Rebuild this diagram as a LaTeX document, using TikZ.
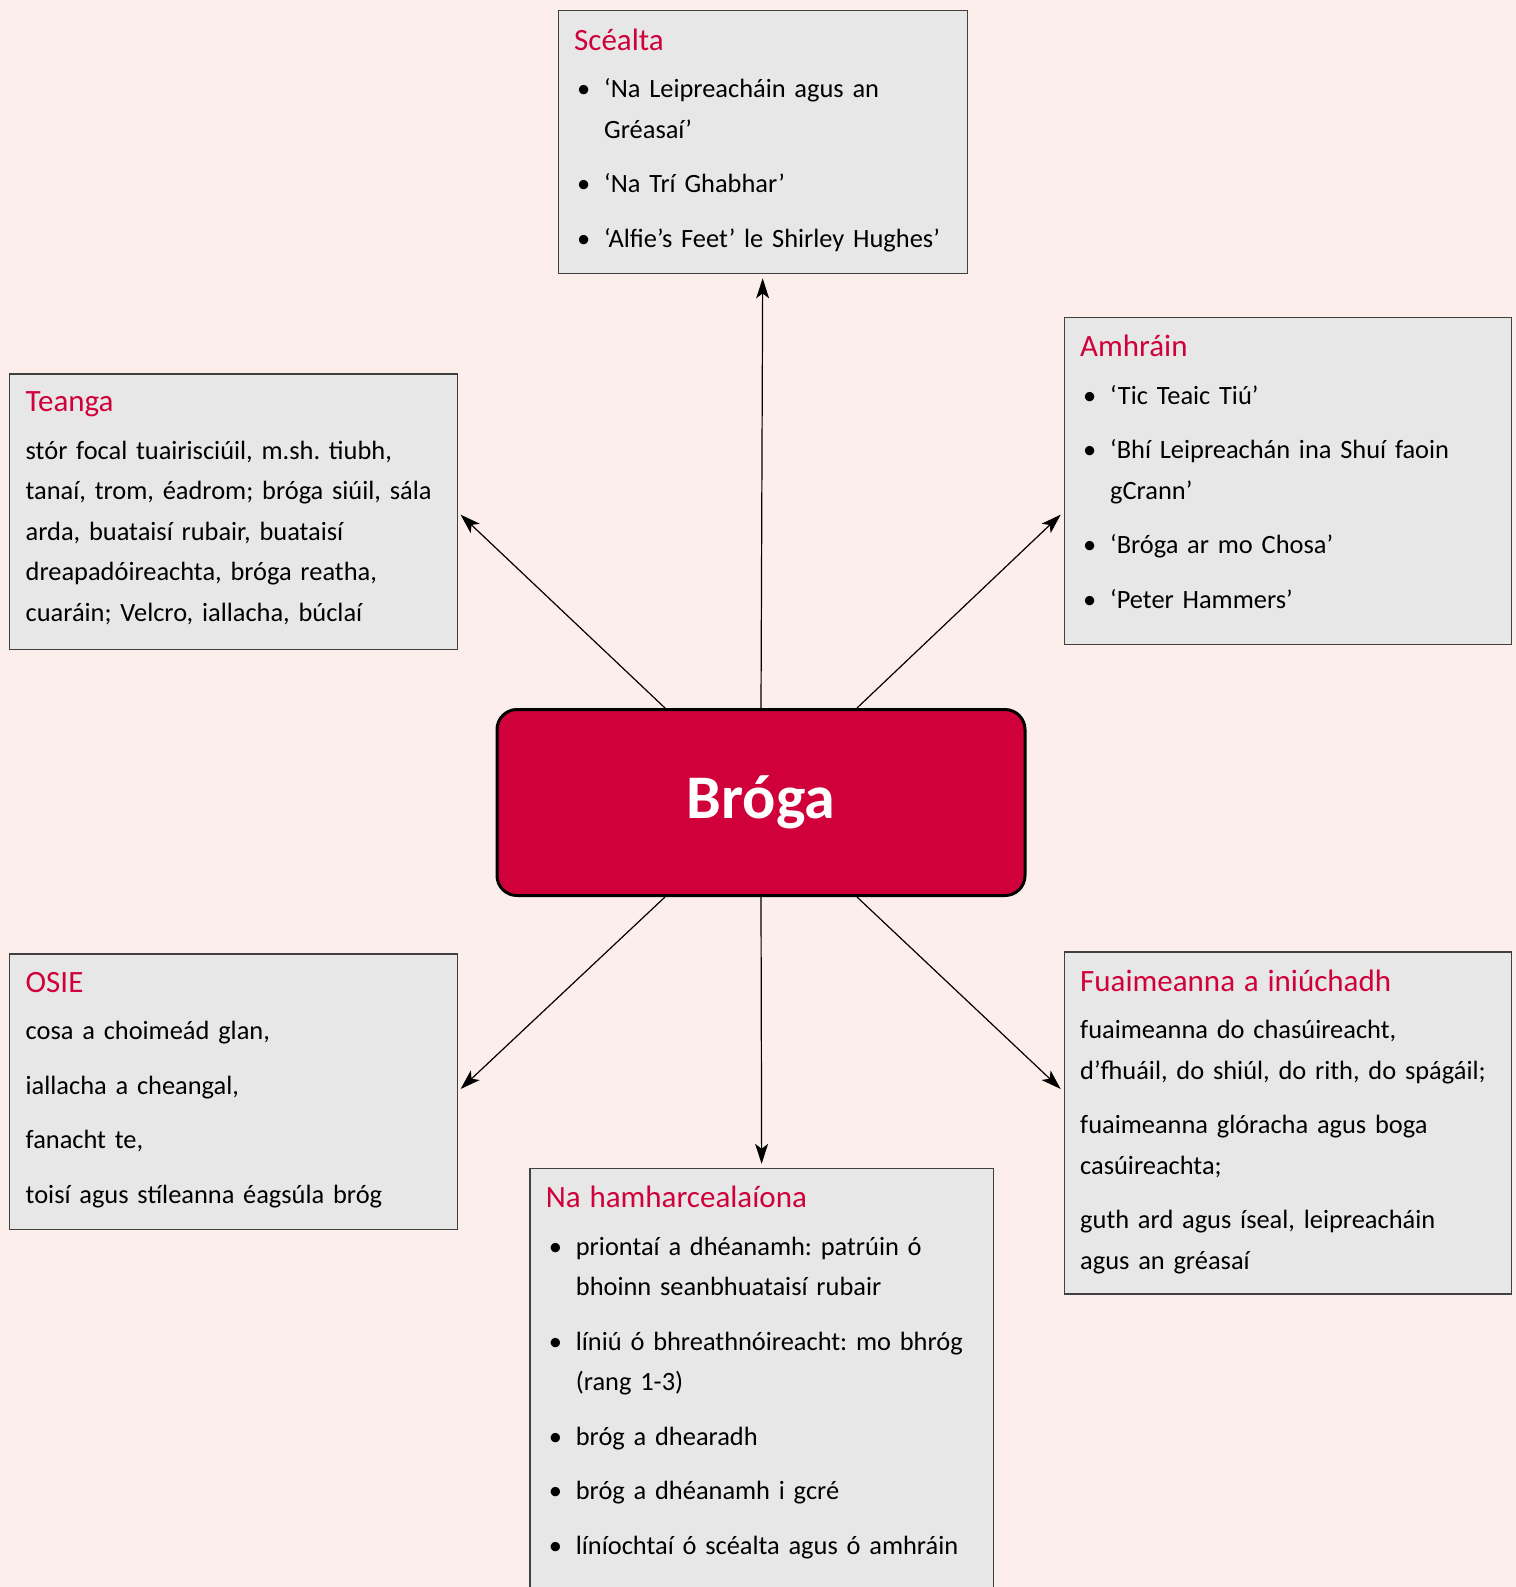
\documentclass[tikz,border=0pt]{standalone}
\usepackage{fontspec}
\setmainfont{Carlito}
\usetikzlibrary{arrows.meta}
\frenchspacing

\definecolor{pagebg}{HTML}{FCEEEA}
\definecolor{boxgray}{HTML}{E7E7E7}
\definecolor{brogared}{HTML}{D0003A}

\newcommand\itm{\par\hangindent=15pt\hangafter=0\noindent\llap{\makebox[15pt][l]{\hspace{1.5pt}\textbullet}}}
\newcommand\head[1]{{\fontsize{15.5}{20}\selectfont\color{brogared}#1}\par\vspace{-3.5pt}}

\tikzset{
	topic/.style={draw=black!75, line width=0.6pt, fill=boxgray, anchor=north west,
		inner xsep=8pt, inner ysep=9pt, align=left, text width=207.7pt,
		font=\fontsize{13.2}{20.25}\selectfont\setlength\parskip{7pt}\setlength\parindent{0pt},
		execute at end node={\par\vspace{2pt}}},
	hub/.style={draw=black, line width=1.5pt, fill=brogared, rounded corners=10pt,
		minimum width=264pt, minimum height=93pt, text=white,
		font=\fontsize{31}{36}\selectfont\bfseries},
	link/.style={-{Stealth[length=10pt,width=6.5pt,inset=2.5pt]}, line width=0.6pt, shorten >=2pt}
}

\begin{document}
\begin{tikzpicture}[x=0.5pt,y=-0.5pt]
		\fill[pagebg] (0,0) rectangle (1516,1587);
		\useasboundingbox (0,0) rectangle (1516,1587);

		\node[hub] (broga) at (761,802.5) {Bróga};

		\node[topic, text width=188.5pt] (scealta) at (557.6,10.1) {\head{Scéalta}
			\itm ‘Na Leipreacháin agus an\newline Gréasaí’
			\itm ‘Na Trí Ghabhar’
			\itm ‘Alfie’s Feet’ le Shirley Hughes’\par};
		\node[topic] (amhrain) at (1063.6,316.8) {\head{Amhráin}
			\itm ‘Tic Teaic Tiú’
			\itm ‘Bhí Leipreachán ina Shuí faoin\newline gCrann’
			\itm ‘Bróga ar mo Chosa’
			\itm ‘Peter Hammers’\par\vspace{7pt}};
		\node[topic] (teanga) at (9.1,373.4) {\head{Teanga}
			stór focal tuairisciúil, m.sh. tiubh,\newline tanaí, trom, éadrom; bróga siúil, sála\newline arda, buataisí rubair, buataisí\newline dreapadóireachta, bróga reatha,\newline cuaráin; Velcro, iallacha, búclaí\par\vspace{1.5pt}};
		\node[topic] (osie) at (9.1,953.3) {\head{OSIE}
			cosa a choimeád glan,\par
			iallacha a cheangal,\par
			fanacht te,\par
			toisí agus stíleanna éagsúla bróg\par};
		\node[topic] (fuaim) at (1063.6,951.3) {\head{Fuaimeanna a iniúchadh}
			fuaimeanna do chasúireacht,\newline d’fhuáil, do shiúl, do rith, do spágáil;\par
			fuaimeanna glóracha agus boga\newline casúireachta;\par
			guth ard agus íseal, leipreacháin\newline agus an gréasaí\par\vspace{-1pt}};
		\node[topic, text width=215.75pt] (amharc) at (529.3,1167.8) {\head{Na hamharcealaíona}
			\itm priontaí a dhéanamh: patrúin ó\newline bhoinn seanbhuataisí rubair
			\itm líniú ó bhreathnóireacht: mo bhróg\newline (rang 1-3)
			\itm bróg a dhearadh
			\itm bróg a dhéanamh i gcré
			\itm líníochtaí ó scéalta agus ó amhráin\par\vspace{12pt}};

		\draw[link] (broga.north) -- (scealta.south);
		\draw[link] ([xshift=-48pt]broga.north) -- (teanga.east);
		\draw[link] ([xshift=48pt]broga.north) -- (teanga.east -| amhrain.west);
		\draw[link] ([xshift=-48pt]broga.south) -- (osie.east);
		\draw[link] ([xshift=48pt]broga.south) -- (osie.east -| fuaim.west);
		\draw[link] (broga.south) -- (amharc.north);
	\end{tikzpicture}
\end{document}
